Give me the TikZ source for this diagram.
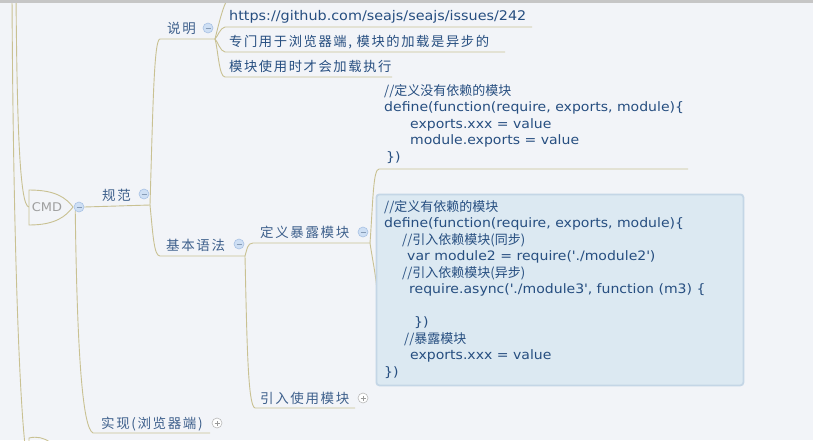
\documentclass[tikz,border=0pt]{standalone}
\usepackage{fontspec}
\setmainfont{DejaVu Sans}[FakeStretch=1.08]
\newfontfamily\cjk{Noto Sans CJK SC}
\newfontfamily\cjkw[LetterSpace=12]{Noto Sans CJK SC}
\newcommand{\zh}[1]{{\cjk #1}}
\newcommand{\zhw}[1]{{\cjkw #1}}
\newcommand{\q}{\textquotesingle}
\usetikzlibrary{calc}

\definecolor{bgcol}{RGB}{242,244,248}
\definecolor{branchcol}{RGB}{201,193,146}
\definecolor{labelcol}{RGB}{62,96,140}
\definecolor{codecol}{RGB}{38,78,128}
\definecolor{boxfill}{RGB}{220,233,242}
\definecolor{boxline}{RGB}{196,214,230}
\definecolor{foldfill}{RGB}{206,223,244}
\definecolor{foldline}{RGB}{168,193,228}

\tikzset{
	branch/.style={draw=branchcol, line width=0.9pt},
	topic/.style={anchor=base west, inner sep=0pt, text=labelcol, font=\fontsize{13.5}{16}\selectfont},
	leaf/.style={anchor=base west, inner sep=0pt, text=codecol, font=\fontsize{13.3}{16}\selectfont},
	code/.style={anchor=north west, inner sep=0pt, align=left, text=codecol, font=\fontsize{13}{16.5}\selectfont},
	fold/.style={circle, minimum size=10pt, inner sep=0pt, fill=foldfill, draw=foldline, line width=0.6pt,
		path picture={\draw[foldline!80!black, line width=0.8pt] ([xshift=-2.5pt]path picture bounding box.center) -- ([xshift=2.5pt]path picture bounding box.center);}},
	unfold/.style={circle, minimum size=10pt, inner sep=0pt, fill=white, draw=gray!55, line width=0.6pt,
		path picture={\draw[gray!80, line width=0.8pt] ([xshift=-2.5pt]path picture bounding box.center) -- ([xshift=2.5pt]path picture bounding box.center)
			([yshift=-2.5pt]path picture bounding box.center) -- ([yshift=2.5pt]path picture bounding box.center);}},
}

\begin{document}
\begin{tikzpicture}[x=1pt,y=-1pt]

	\useasboundingbox (0,0) rectangle (813,440);
	\fill[bgcol] (0,0) rectangle (813,440);

	% branch ends
	\coordinate (cmd-w) at (29,207);
	\coordinate (gf-b) at (150,205);
	\coordinate (sm-a) at (160,39);  \coordinate (sm-b) at (215,39);
	\coordinate (yf-a) at (160,256); \coordinate (yf-b) at (245,256);
	\coordinate (dy-a) at (253,243); \coordinate (dy-b) at (370,243);
	\coordinate (yr-a) at (255,408); \coordinate (yr-b) at (355,408);
	\coordinate (sx-a) at (93,433);  \coordinate (sx-b) at (210,433);
	\coordinate (top-a) at (226,2);  \coordinate (top-b) at (540,2);
	\coordinate (url-a) at (225,27); \coordinate (url-b) at (532,27);
	\coordinate (zm-a) at (225,52);  \coordinate (zm-b) at (505,52);
	\coordinate (mk-a) at (225,77);  \coordinate (mk-b) at (392,77);
	\coordinate (def1-a) at (379,169); \coordinate (def1-b) at (688,169);

	% lines from the left
	\draw[branch] (12,-5) .. controls (13,200) and (18,380) .. (25,445);
	\draw[branch] (16,-5) .. controls (17,110) and (19,207) .. (cmd-w);
	\draw[branch] (29,445) -- (29,438) .. controls (37,436) and (44,438) .. (50,442);

	% CMD
	\draw[branch, fill=bgcol] (29,190) .. controls (56,190) and (66,198) .. (73,207)
		.. controls (66,216) and (56,225) .. (29,225) -- cycle;
	\node[text=gray!75, font=\fontsize{12}{14}\selectfont] (cmd) at (47,207.5) {CMD};
	\node[fold] (cmdfold) at (79,207) {};

	% topics
	\node[topic] (gf) at (102,200) {\zhw{规范}};
	\node[topic] (sm) at (167,33) {\zhw{说明}};
	\node[topic] (yf) at (166,250) {\zhw{基本语法}};
	\node[topic] (dy) at (260,237) {\zhw{定义暴露模块}};
	\node[topic] (yr) at (260,403) {\zhw{引入使用模块}};
	\node[topic] (sx) at (101,428) {\zhw{实现(浏览器端)}};

	\node[leaf] (url) at (229,20) {https://github.com/seajs/seajs/issues/242};
	\node[leaf] (zm) at (229,46) {\zhw{专门用于浏览器端, 模块的加载是异步的}};
	\node[leaf] (mk) at (229,71) {\zhw{模块使用时才会加载执行}};

	% connectors
	\draw[branch] (cmdfold.east) -- (gf-b);
	\draw[branch] (cmdfold.south west) .. controls +(2,150) and +(-10,-5) .. (sx-a) -- (sx-b);
	\draw[branch] (gf-b) .. controls +(3,-100) and +(-6,0) .. (sm-a) -- (sm-b);
	\draw[branch] (gf-b) .. controls +(3,30) and +(-6,0) .. (yf-a) -- (yf-b);
	\draw[branch] (sm-b) .. controls +(3,-12) and +(-4,8) .. (top-a) -- (top-b);
	\draw[branch] (sm-b) .. controls +(3,-3) and +(-5,1) .. (url-a) -- (url-b);
	\draw[branch] (sm-b) .. controls +(3,3) and +(-5,-1) .. (zm-a) -- (zm-b);
	\draw[branch] (sm-b) .. controls +(3,10) and +(-6,0) .. (mk-a) -- (mk-b);
	\draw[branch] (yf-b) .. controls +(2,-6) and +(-6,0) .. (dy-a) -- (dy-b);
	\draw[branch] (yf-b) .. controls +(2,90) and +(-7,-2) .. (yr-a) -- (yr-b);
	\draw[branch] (dy-b) .. controls +(3,-40) and +(-6,0) .. (def1-a) -- (def1-b);
	\draw[branch] (dy-b) .. controls +(3,20) and +(-2,-20) .. (377,290);

	% code without box
	\node[code] (def1) at (384,84) {\zh{//定义没有依赖的模块}\\
		define(function(require, exports, module)\{\\
		\hspace*{26pt}exports.xxx = value\\
		\hspace*{26pt}module.exports = value\\
		\hspace*{2pt}\})};

	% code in box
	\node[draw=boxline, fill=boxfill, line width=1.8pt, rounded corners=3pt, anchor=north west,
		minimum width=367pt, minimum height=191pt, inner sep=0pt] (def2) at (375.5,193.5) {};
	\node[code] (def2txt) at (384,200) {\zh{//定义有依赖的模块}\\
		define(function(require, exports, module)\{\\
		\hspace*{18pt}\zh{//引入依赖模块(同步)}\\
		\hspace*{23pt}var module2 = require(\q./module2\q)\\
		\hspace*{18pt}\zh{//引入依赖模块(异步)}\\
		\hspace*{25pt}require.async(\q./module3\q, function (m3) \{\\
		\mbox{}\\
		\hspace*{30pt}\})\\
		\hspace*{20pt}\zh{//暴露模块}\\
		\hspace*{26pt}exports.xxx = value\\
		\})};

	% fold buttons
	\node[fold] (gffold) at (144,194) {};
	\node[fold] (smfold) at (208,28) {};
	\node[fold] (yffold) at (239,244) {};
	\node[fold] (dyfold) at (363,232) {};
	\node[unfold] (yrfold) at (363,398) {};
	\node[unfold] (sxfold) at (217,423) {};

	% top edge
	\fill[gray!45] (0,0) rectangle (813,3);
\end{tikzpicture}
\end{document}
